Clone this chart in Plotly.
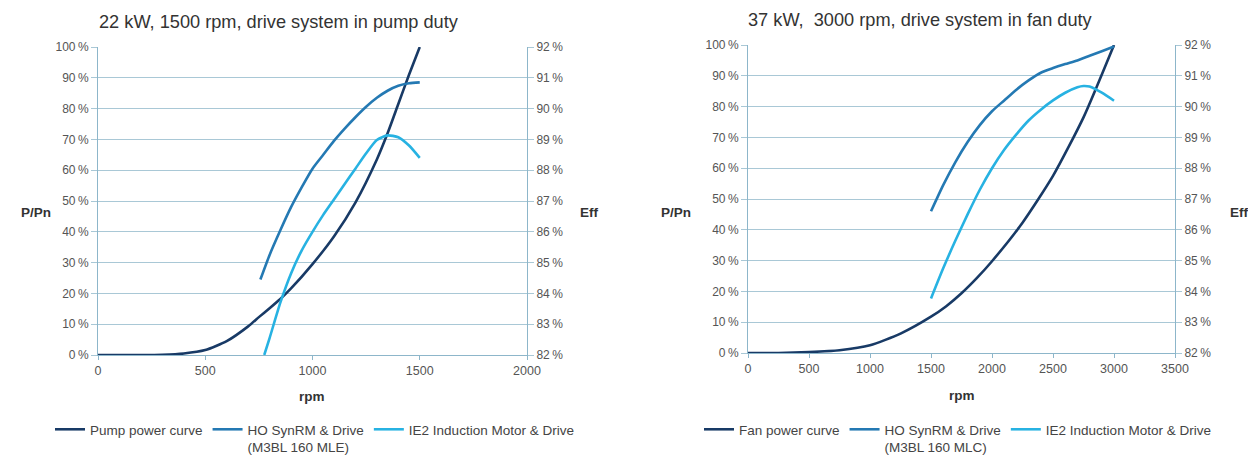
import plotly.graph_objects as go

# ---------------- data: left chart (pump duty) ----------------
pump_rpm = [0, 100, 200, 300, 400, 500, 600, 700, 750, 800, 850, 900, 1000, 1100, 1200, 1300, 1350, 1400, 1450, 1500]
pump_power = [0, 0, 0, 0.1, 0.5, 1.6, 4.5, 9.3, 12.3, 15.2, 18.2, 21.6, 29.5, 38.5, 49.5, 63.5, 72.0, 81.5, 91.0, 100]

ho_left_rpm = [757, 800, 850, 900, 950, 1000, 1050, 1100, 1150, 1200, 1250, 1300, 1350, 1400, 1450, 1500]
ho_left_eff = [84.45, 85.25, 86.05, 86.8, 87.45, 88.05, 88.5, 88.95, 89.35, 89.72, 90.06, 90.35, 90.58, 90.74, 90.82, 90.85]

ie2_left_rpm = [775, 800, 850, 900, 950, 1000, 1050, 1100, 1150, 1200, 1250, 1300, 1350, 1400, 1450, 1500]
ie2_left_eff = [82.0, 82.55, 83.7, 84.65, 85.4, 86.0, 86.55, 87.05, 87.55, 88.05, 88.55, 88.98, 89.13, 89.07, 88.8, 88.4]

# ---------------- data: right chart (fan duty) ----------------
fan_rpm = [0, 250, 500, 750, 1000, 1250, 1500, 1625, 1750, 1875, 2000, 2250, 2500, 2750, 3000]
fan_power = [0, 0, 0.3, 0.9, 2.5, 6.3, 11.8, 15.2, 19.4, 24.3, 29.8, 42.3, 57.5, 76.5, 100]

ho_right_rpm = [1500, 1600, 1700, 1800, 1900, 2000, 2100, 2200, 2300, 2400, 2500, 2600, 2700, 2800, 2900, 3000]
ho_right_eff = [86.6, 87.45, 88.2, 88.85, 89.4, 89.85, 90.2, 90.55, 90.85, 91.1, 91.25, 91.38, 91.5, 91.65, 91.8, 91.95]

ie2_right_rpm = [1500, 1600, 1700, 1800, 1900, 2000, 2100, 2200, 2300, 2400, 2500, 2600, 2700, 2750, 2800, 2900, 3000]
ie2_right_eff = [83.77, 84.75, 85.65, 86.5, 87.3, 88.0, 88.6, 89.1, 89.55, 89.9, 90.2, 90.45, 90.63, 90.67, 90.65, 90.45, 90.19]

left_x_ticks = [0, 500, 1000, 1500, 2000]
right_x_ticks = [0, 500, 1000, 1500, 2000, 2500, 3000, 3500]

# ---------------- styles ----------------
NAVY = "#183a66"
BLUE = "#2479b3"
CYAN = "#27b2e2"
GRID = "#a9c8d6"
AXIS = "#8db6ca"
FONT = "Liberation Sans, Arial, sans-serif"
YTICKF = dict(family=FONT, size=12, color="#555555")
XTICKF = dict(family=FONT, size=12.5, color="#555555")

# page has an 8px body margin: size the figure to the remaining window
OFF = 8
W, H = 1256 - OFF, 455 - OFF


def px(x):
    return (x - OFF) / W


def py(y):
    return 1 - (y - OFF) / H


fig = go.Figure()

line_kw = dict(mode="lines", line_shape="spline")

fig.add_trace(go.Scatter(x=pump_rpm, y=pump_power, name="Pump power curve",
                         line=dict(color=NAVY, width=2.6, smoothing=0.6),
                         xaxis="x", yaxis="y", legend="legend", **line_kw))
fig.add_trace(go.Scatter(x=ho_left_rpm, y=ho_left_eff, name="HO SynRM & Drive<br>(M3BL 160 MLE)",
                         line=dict(color=BLUE, width=2.6, smoothing=0.6),
                         xaxis="x", yaxis="y2", legend="legend", **line_kw))
fig.add_trace(go.Scatter(x=ie2_left_rpm, y=ie2_left_eff, name="IE2 Induction Motor & Drive",
                         line=dict(color=CYAN, width=2.6, smoothing=0.6),
                         xaxis="x", yaxis="y2", legend="legend", **line_kw))

fig.add_trace(go.Scatter(x=fan_rpm, y=fan_power, name="Fan power curve",
                         line=dict(color=NAVY, width=2.6, smoothing=0.6),
                         xaxis="x2", yaxis="y3", legend="legend2", **line_kw))
fig.add_trace(go.Scatter(x=ho_right_rpm, y=ho_right_eff, name="HO SynRM & Drive<br>(M3BL 160 MLC)",
                         line=dict(color=BLUE, width=2.6, smoothing=0.6),
                         xaxis="x2", yaxis="y4", legend="legend2", **line_kw))
fig.add_trace(go.Scatter(x=ie2_right_rpm, y=ie2_right_eff, name="IE2 Induction Motor & Drive",
                         line=dict(color=CYAN, width=2.6, smoothing=0.6),
                         xaxis="x2", yaxis="y4", legend="legend2", **line_kw))


def xax(domain, anchor, rng, ticks):
    return dict(domain=domain, anchor=anchor, range=rng, tickvals=ticks, automargin=False,
                showgrid=False, zeroline=False, showline=True, linecolor=AXIS, linewidth=1,
                ticks="outside", ticklen=4, tickcolor=AXIS, tickfont=XTICKF, fixedrange=True)


def yax(domain, anchor, rng, dtick, grid, side="left", overlaying=None):
    d = dict(domain=domain, anchor=anchor, range=rng, dtick=dtick, ticksuffix="\u2009%",
             automargin=False,
             showgrid=grid, gridcolor=GRID, gridwidth=1, zeroline=False,
             showline=True, linecolor=AXIS, linewidth=1, side=side,
             ticks="outside", ticklen=6, tickcolor=GRID, tickfont=YTICKF, fixedrange=True)
    if overlaying:
        d["overlaying"] = overlaying
        d.pop("domain")
    return d


ly = [py(355), py(47)]
ry = [py(353), py(45)]
lx = [px(98), px(527)]
rx = [px(748), px(1175)]

legend_common = dict(orientation="h", font=dict(family=FONT, size=13.5, color="#444444"),
                     bgcolor="rgba(0,0,0,0)", yanchor="top", xanchor="left",
                     itemwidth=30, tracegroupgap=0, valign="top")

fig.update_layout(
    template="none",
    width=W, height=H,
    margin=dict(l=0, r=0, t=0, b=0, pad=0, autoexpand=False),
    paper_bgcolor="white", plot_bgcolor="white",
    font=dict(family=FONT, color="#444444"),
    xaxis=xax(lx, "y", [0, 2000], left_x_ticks),
    yaxis=yax(ly, "x", [0, 100], 10, True),
    yaxis2=yax(ly, "x", [82, 92], 1, False, side="right", overlaying="y"),
    xaxis2=xax(rx, "y3", [0, 3500], right_x_ticks),
    yaxis3=yax(ry, "x2", [0, 100], 10, True),
    yaxis4=yax(ry, "x2", [82, 92], 1, False, side="right", overlaying="y3"),
    legend=dict(x=px(50), y=py(414), **legend_common),
    legend2=dict(x=px(699), y=py(414), **legend_common),
    showlegend=True,
)

ann = []
ann.append(dict(text="22 kW, 1500 rpm, drive system in pump duty", x=px(97), y=py(22),
                xref="paper", yref="paper", xanchor="left", yanchor="middle", showarrow=False,
                font=dict(family=FONT, size=18.2, color="#333333")))
ann.append(dict(text="37 kW,  3000 rpm, drive system in fan duty", x=px(746), y=py(20),
                xref="paper", yref="paper", xanchor="left", yanchor="middle", showarrow=False,
                font=dict(family=FONT, size=18.2, color="#333333")))
for txt, xp, yp in [("P/Pn", 36, 212), ("Eff", 589, 212), ("P/Pn", 676, 212), ("Eff", 1239, 212),
                    ("rpm", 312, 396), ("rpm", 962, 395)]:
    ann.append(dict(text="<b>%s</b>" % txt, x=px(xp), y=py(yp), xref="paper", yref="paper",
                    xanchor="center", yanchor="middle", showarrow=False,
                    font=dict(family=FONT, size=13.5, color="#333333")))
fig.update_layout(annotations=ann)

fig.write_html("out.html")
